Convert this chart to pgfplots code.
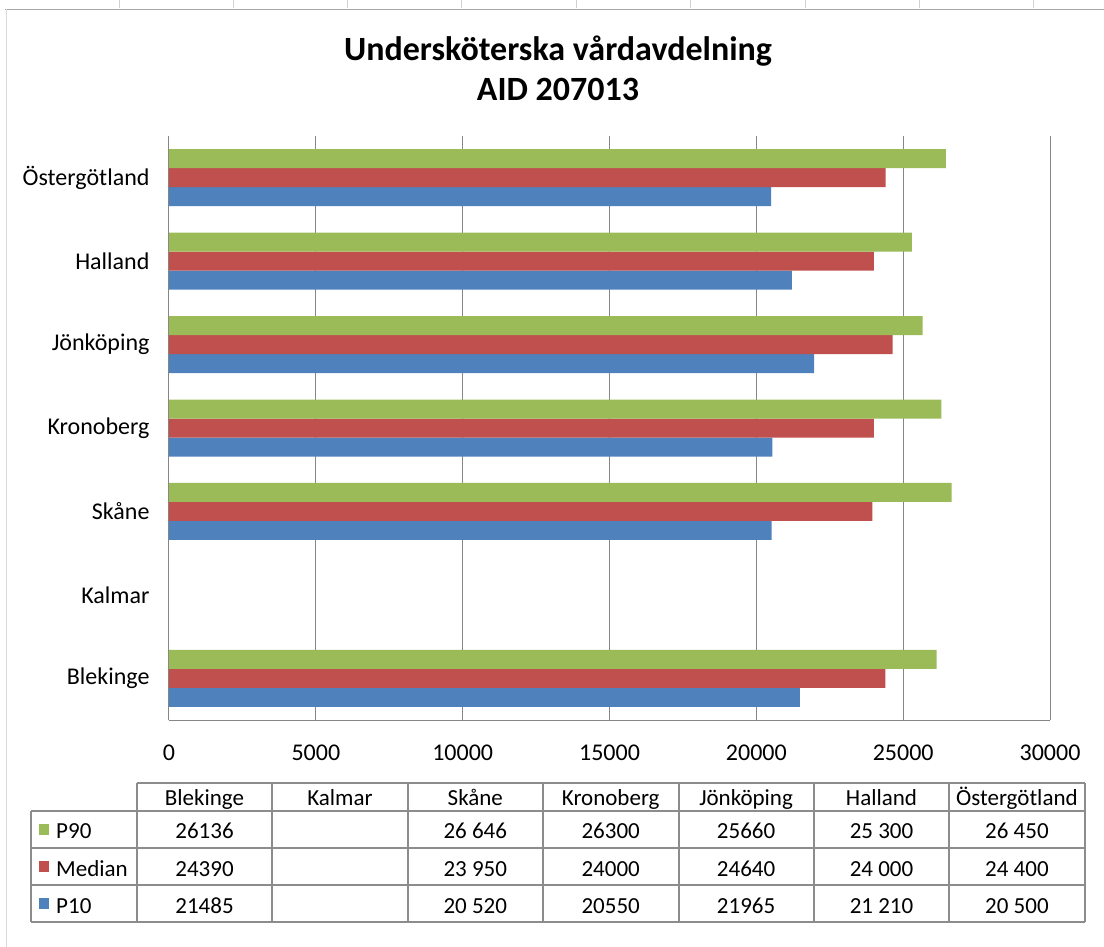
\documentclass[border=0pt]{standalone}
\usepackage{pgfplots}
\pgfplotsset{compat=1.18}
\usepackage{fontspec}
\setmainfont{Carlito}
\definecolor{cgreen}{HTML}{9BBB59}
\definecolor{cred}{HTML}{C0504D}
\definecolor{cblue}{HTML}{4F81BD}
\definecolor{cgrid}{HTML}{868686}
\definecolor{ctab}{HTML}{8C8C8C}
\begin{document}
\begin{tikzpicture}
\begin{scope}[x=1pt,y=-1pt]
\path[use as bounding box] (0,0) rectangle (1104,947);
\foreach \xx in {119,233,347,461,576,690,805,919,1033} \draw[gray!35, line width=1pt] (\xx,0) -- (\xx,8);
\draw[gray!70, line width=1.6pt] (5,9.5) -- (1104,9.5);
\draw[gray!30, line width=1pt] (6,9.5) -- (6,947);
\node[font=\bfseries\fontsize{34}{40}\selectfont, align=center] at (558,68) {Undersköterska vårdavdelning\\AID 207013};
\end{scope}
\begin{axis}[
  at={(169pt,-720pt)}, anchor=south west,
  scale only axis, width=881pt, height=584pt,
  xbar=0pt, bar width=19pt,
  xmin=0, xmax=30000, ymin=-0.5, ymax=6.5,
  ytick={0,...,6},
  yticklabels={Blekinge,Kalmar,Skåne,Kronoberg,Jönköping,Halland,Östergötland},
  xtick={0,5000,...,30000},
  scaled x ticks=false,
  /pgf/number format/assume math mode=true,
  /pgf/number format/set thousands separator={},
  xmajorgrids, major grid style={cgrid, line width=1pt},
  axis lines*=left, axis line style={cgrid, line width=1pt, -},
  major tick length=0pt,
  tick label style={font=\fontsize{24}{28}\selectfont},
  xticklabel style={yshift=-21pt},
  yticklabel style={xshift=-16pt},
  clip=false,
]
\addplot[fill=cblue, draw=none] coordinates {(21485,0) (20520,2) (20550,3) (21965,4) (21210,5) (20500,6)};
\addplot[fill=cred, draw=none] coordinates {(24390,0) (23950,2) (24000,3) (24640,4) (24000,5) (24400,6)};
\addplot[fill=cgreen, draw=none] coordinates {(26136,0) (26646,2) (26300,3) (25660,4) (25300,5) (26450,6)};
\end{axis}
\begin{scope}[x=1pt,y=-1pt]
\draw[ctab, line width=1.4pt] (137,783) -- (1085,783);
\draw[ctab, line width=1.4pt] (31,811) -- (1085,811);
\draw[ctab, line width=1.4pt] (31,848) -- (1085,848);
\draw[ctab, line width=1.4pt] (31,885) -- (1085,885);
\draw[ctab, line width=1.4pt] (31,922) -- (1085,922);
\draw[ctab, line width=1.4pt] (31,811) -- (31,922);
\foreach \xx in {137,272,408,543,679,814,949,1085} \draw[ctab, line width=1.4pt] (\xx,783) -- (\xx,922);
\tikzset{tt/.style={font=\fontsize{23}{27}\selectfont, anchor=base, inner sep=0pt}}
\foreach \t [count=\i from 0] in {Blekinge,Kalmar,Skåne,Kronoberg,Jönköping,Halland,Östergötland}
  \node[tt] at ({204.5+135.4*\i},805) {\t};
\fill[cgreen] (39,824) rectangle (49,835);
\fill[cred] (39,861) rectangle (49,872);
\fill[cblue] (39,898) rectangle (49,909);
\node[tt, anchor=base west] at (56,838) {P90};
\node[tt, anchor=base west] at (56,876) {Median};
\node[tt, anchor=base west] at (56,913) {P10};
\foreach \t [count=\i from 0] in {26136,{},26 646,26300,25660,25 300,26 450}
  \node[tt] at ({204.5+135.4*\i},838) {\t};
\foreach \t [count=\i from 0] in {24390,{},23 950,24000,24640,24 000,24 400}
  \node[tt] at ({204.5+135.4*\i},876) {\t};
\foreach \t [count=\i from 0] in {21485,{},20 520,20550,21965,21 210,20 500}
  \node[tt] at ({204.5+135.4*\i},913) {\t};
\end{scope}
\end{tikzpicture}
\end{document}
